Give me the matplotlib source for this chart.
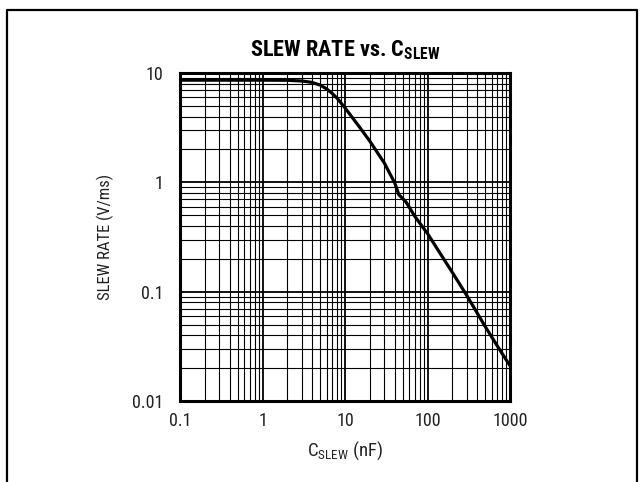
import matplotlib
matplotlib.use("Agg")
import matplotlib.pyplot as plt
from matplotlib.lines import Line2D
from matplotlib import font_manager

# pick a narrow face if one is installed
names = {f.name for f in font_manager.fontManager.ttflist}
narrow = [n for n in ['Roboto Condensed', 'Liberation Sans Narrow', 'Open Sans Condensed',
                      'Liberation Sans'] if n in names]
base = narrow[0] if narrow else 'DejaVu Sans'
plt.rcParams['font.family'] = [base, 'DejaVu Sans']
plt.rcParams['font.stretch'] = 'condensed'
plt.rcParams['mathtext.fontset'] = 'custom'
plt.rcParams['mathtext.rm'] = base
plt.rcParams['mathtext.bf'] = base + ':bold'

# slew rate curve
c_slew = [0.1, 0.5, 1, 2, 3, 4, 5, 6, 7, 8, 10, 12, 15, 20, 30, 40, 45, 50,
          55, 70, 100, 200, 300, 500, 700, 1000]
slew_rate = [8.6, 8.6, 8.6, 8.58, 8.45, 8.2, 7.75, 7.15, 6.5, 5.9, 4.8, 4.0,
             3.2, 2.38, 1.5, 0.99, 0.77, 0.71, 0.66, 0.49, 0.34, 0.15, 0.092,
             0.048, 0.032, 0.021]

x_ticks = [0.1, 1, 10, 100, 1000]
x_labels = ['0.1', '1', '10', '100', '1000']
y_ticks = [0.01, 0.1, 1, 10]
y_labels = ['0.01', '0.1', '1', '10']

fig = plt.figure(figsize=(6.43, 4.82), dpi=100)
ax = fig.add_axes([180 / 643, 81 / 482, 330 / 643, 328 / 482])

ax.plot(c_slew, slew_rate, color='black', lw=2.3, solid_capstyle='butt',
        solid_joinstyle='round', zorder=3)

ax.set_xscale('log')
ax.set_yscale('log')
ax.set_xlim(0.1, 1000)
ax.set_ylim(0.01, 10)

ax.set_xticks(x_ticks)
ax.set_xticklabels(x_labels)
ax.set_yticks(y_ticks)
ax.set_yticklabels(y_labels)

ax.grid(which='major', color='black', lw=1.3)
ax.grid(which='minor', color='black', lw=0.8)
ax.tick_params(which='both', length=0, labelsize=13, colors='#222222')
ax.tick_params(axis='x', pad=8)
ax.tick_params(axis='y', pad=12)
for s in ax.spines.values():
    s.set_linewidth(2.2)
    s.set_color('black')

ax.set_ylabel('SLEW RATE (V/ms)', fontsize=12, color='#222222', labelpad=13)
ax.set_xlabel(r'C$_{\mathrm{SLEW}}$ (nF)', fontsize=13.5, color='#222222', labelpad=7)

fig.text(345 / 643, 1 - 56 / 482, r'SLEW RATE vs. C$_{\mathbf{SLEW}}$',
         ha='center', va='baseline', fontsize=16, fontweight='bold')

# page frame
fig.add_artist(Line2D([7 / 643, 7 / 643, 637 / 643, 637 / 643],
                      [0, 1 - 10 / 482, 1 - 10 / 482, 0],
                      transform=fig.transFigure, color='black', lw=1.6))

fig.savefig('out.png', dpi=100)
